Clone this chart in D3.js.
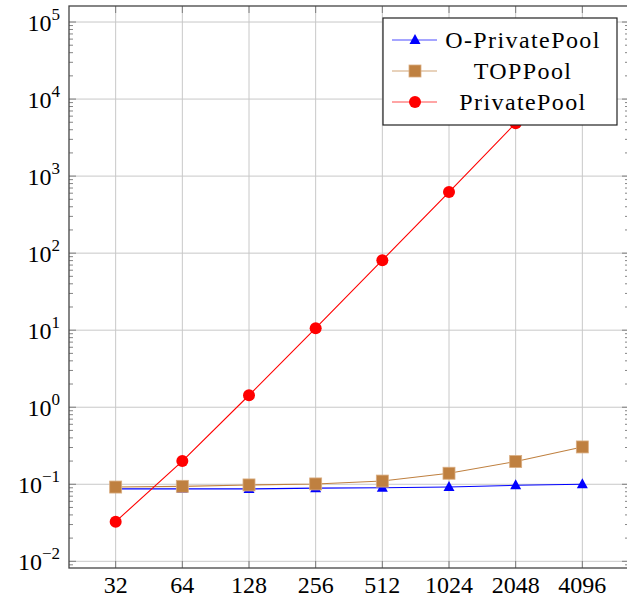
<!DOCTYPE html>
<html>
<head>
<meta charset="utf-8">
<script src="https://cdn.jsdelivr.net/npm/d3@7"></script>
<style>
body { margin: 0; background: #fff; }
</style>
</head>
<body>
<svg id="chart"></svg>
<script>
const sizes = [32, 64, 128, 256, 512, 1024, 2048, 4096];
const oPrivatePool = [0.087, 0.087, 0.087, 0.089, 0.090, 0.092, 0.097, 0.100];
const topPool = [0.092, 0.094, 0.098, 0.101, 0.110, 0.139, 0.197, 0.305];
const privatePool = [0.0327, 0.2, 1.43, 10.6, 81, 620, 4870, 37000];
const yTicks = [-2, -1, 0, 1, 2, 3, 4, 5];

const series = [
	{ name: "O-PrivatePool", values: oPrivatePool, color: "#0000ff", mark: "triangle" },
	{ name: "TOPPool", values: topPool, color: "#bf8040", mark: "square" },
	{ name: "PrivatePool", values: privatePool, color: "#ff0000", mark: "circle" }
];

const margin = { top: 6, right: -2, bottom: 32, left: 69 };
const width = 627 - margin.left - margin.right;
const height = 600 - margin.top - margin.bottom;

const svg = d3.select("#chart")
	.attr("width", 627)
	.attr("height", 600)
	.attr("font-family", "'Liberation Serif', 'Times New Roman', serif")
	.style("display", "block");

const g = svg.append("g")
	.attr("transform", "translate(" + margin.left + "," + margin.top + ")");

const x = d3.scaleLog().base(2)
	.domain([Math.pow(2, 4.3), Math.pow(2, 12.7)])
	.range([0, width]);

const y = d3.scaleLog()
	.domain([Math.pow(10, -2.087), Math.pow(10, 5.208)])
	.range([height, 0]);

// grid
g.append("g").selectAll("line").data(sizes).join("line")
	.attr("x1", d => x(d)).attr("x2", d => x(d))
	.attr("y1", 0).attr("y2", height)
	.attr("stroke", "#c8c8c8").attr("stroke-width", 1);
g.append("g").selectAll("line").data(yTicks).join("line")
	.attr("y1", d => y(Math.pow(10, d))).attr("y2", d => y(Math.pow(10, d)))
	.attr("x1", 0).attr("x2", width)
	.attr("stroke", "#c8c8c8").attr("stroke-width", 1);

// minor y ticks, left and right
const minor = [];
yTicks.forEach(e => { for (let m = 2; m <= 9; m++) minor.push(m * Math.pow(10, e)); });
minor.push(0.009);
const minorVis = minor.filter(v => y(v) >= 0 && y(v) <= height);
[0, width].forEach(px => {
	const dir = px === 0 ? 1 : -1;
	g.append("g").selectAll("line").data(minorVis).join("line")
		.attr("x1", px).attr("x2", px + dir * 4)
		.attr("y1", d => y(d)).attr("y2", d => y(d))
		.attr("stroke", "#666").attr("stroke-width", 0.8);
	g.append("g").selectAll("line").data(yTicks).join("line")
		.attr("x1", px).attr("x2", px + dir * 7)
		.attr("y1", d => y(Math.pow(10, d))).attr("y2", d => y(Math.pow(10, d)))
		.attr("stroke", "#666").attr("stroke-width", 0.8);
});
// x ticks top and bottom
[0, height].forEach(py => {
	const dir = py === 0 ? 1 : -1;
	g.append("g").selectAll("line").data(sizes).join("line")
		.attr("x1", d => x(d)).attr("x2", d => x(d))
		.attr("y1", py).attr("y2", py + dir * 7)
		.attr("stroke", "#666").attr("stroke-width", 0.8);
});

// frame
g.append("rect")
	.attr("width", width).attr("height", height)
	.attr("fill", "none").attr("stroke", "#444").attr("stroke-width", 1.3);

// x labels
g.append("g").selectAll("text").data(sizes).join("text")
	.attr("x", d => x(d)).attr("y", height + 25)
	.attr("text-anchor", "middle")
	.attr("font-size", 24)
	.text(d => d);

// y labels
const yl = g.append("g").selectAll("text").data(yTicks).join("text")
	.attr("x", -9).attr("y", d => y(Math.pow(10, d)) + 9)
	.attr("text-anchor", "end")
	.attr("font-size", 24);
yl.append("tspan").text("10");
yl.append("tspan").attr("dy", -11).attr("font-size", 17)
	.text(d => d < 0 ? "\u2212" + (-d) : d);

// lines and marks
const line = d3.line()
	.x((d, i) => x(sizes[i]))
	.y(d => y(d));

const plot = g.append("g");

function drawMark(sel, type, color) {
	if (type === "circle") {
		sel.append("circle").attr("r", 6).attr("fill", color);
	} else if (type === "square") {
		sel.append("rect").attr("x", -6).attr("y", -6).attr("width", 12).attr("height", 12)
			.attr("fill", color).attr("stroke", "#d9ad82").attr("stroke-width", 0.8);
	} else {
		sel.append("path").attr("d", "M0,-6L5.5,4L-5.5,4Z").attr("fill", color);
	}
}

series.forEach(s => {
	plot.append("path")
		.datum(s.values)
		.attr("d", line)
		.attr("fill", "none")
		.attr("stroke", s.color)
		.attr("stroke-width", 1.1);
});
series.forEach(s => {
	plot.append("g").selectAll("g").data(s.values).join("g")
		.attr("transform", (d, i) => "translate(" + x(sizes[i]) + "," + y(d) + ")")
		.each(function() { drawMark(d3.select(this), s.mark, s.color); });
});

// legend
const lg = svg.append("g").attr("transform", "translate(383,18)");
lg.append("rect").attr("width", 234).attr("height", 107)
	.attr("fill", "#fff").attr("stroke", "#222").attr("stroke-width", 1.2);
series.forEach((s, i) => {
	const row = lg.append("g").attr("transform", "translate(0," + (22 + i * 31) + ")");
	row.append("line").attr("x1", 9).attr("x2", 54)
		.attr("stroke", s.color).attr("stroke-opacity", 0.7).attr("stroke-width", 1.1);
	const m = row.append("g").attr("transform", "translate(32,0)");
	drawMark(m, s.mark, s.color);
	row.append("text").attr("x", 140).attr("y", 8)
		.attr("text-anchor", "middle")
		.attr("font-size", 24)
		.attr("letter-spacing", 1.4)
		.text(s.name);
});
</script>
</body>
</html>
